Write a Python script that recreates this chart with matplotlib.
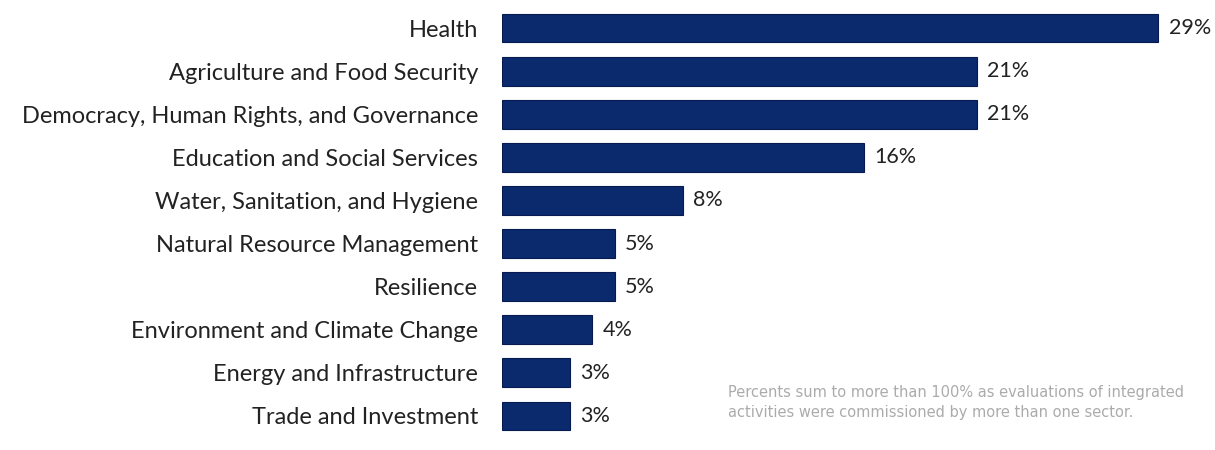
import matplotlib.pyplot as plt

sectors = [
    "Health",
    "Agriculture and Food Security",
    "Democracy, Human Rights, and Governance",
    "Education and Social Services",
    "Water, Sanitation, and Hygiene",
    "Natural Resource Management",
    "Resilience",
    "Environment and Climate Change",
    "Energy and Infrastructure",
    "Trade and Investment",
]
shares = [29, 21, 21, 16, 8, 5, 5, 4, 3, 3]

note = ("Percents sum to more than 100% as evaluations of integrated\n"
        "activities were commissioned by more than one sector.")

plt.rcParams['font.family'] = ['Lato', 'DejaVu Sans']

fig = plt.figure(figsize=(12.15, 4.5), dpi=100)
ax = fig.add_axes([0.413, 0.0, 0.587, 1.0])

pos = list(range(len(sectors)))
ax.barh(pos, shares, height=0.67, color="#0b2a6e", edgecolor="#061a4f", linewidth=0.8)

for p, v in zip(pos, shares):
    ax.text(v + 0.45, p, f"{v}%", va="center", ha="left", fontsize=15.5, color="#222222")

ax.set_yticks(pos)
ax.set_yticklabels(sectors, fontsize=17, color="#222222")
ax.tick_params(axis="y", length=0, pad=17)
ax.set_xticks([])
ax.set_xlim(0, 31.5)
ax.set_ylim(9.79, -0.65)
for s in ax.spines.values():
    s.set_visible(False)

fig.text(0.599, 0.106, note, fontsize=10.5, color="#ababab", ha="left", va="center",
         linespacing=1.45, family="DejaVu Sans")

fig.savefig("out.png", dpi=100)
